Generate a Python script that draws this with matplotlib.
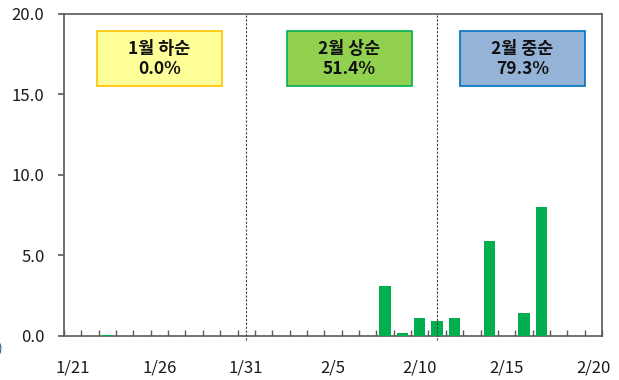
import matplotlib
matplotlib.use("Agg")
import matplotlib.pyplot as plt
from matplotlib.patches import Rectangle

plt.rcParams['font.family'] = ['Noto Sans CJK KR', 'DejaVu Sans']

# Daily dates 1/21 .. 2/20
dates = [f"1/{d}" for d in range(21, 32)] + [f"2/{d}" for d in range(1, 21)]
values = [0, 0, 0.05, 0, 0, 0, 0, 0, 0, 0, 0,
          0, 0, 0, 0, 0, 0, 0, 3.1, 0.15, 1.1,
          0.9, 1.1, 0, 5.85, 0, 1.4, 8.0, 0, 0, 0]
label_dates = ["1/21", "1/26", "1/31", "2/5", "2/10", "2/15", "2/20"]
divider_dates = ["1/31", "2/11"]
period_names = ["1월 하순", "2월 상순", "2월 중순"]
period_rates = ["0.0%", "51.4%", "79.3%"]
period_face = ["#FFFF99", "#92D050", "#95B3D7"]
period_edge = ["#FFC000", "#00B050", "#0070C0"]
period_span = [(1.4, 8.6), (12.35, 19.55), (22.3, 29.5)]

fig = plt.figure(figsize=(6.19, 3.80), dpi=100)
ax = fig.add_axes([64 / 619, 1 - 335.5 / 380, 538 / 619, 321.5 / 380])

x = list(range(len(dates)))
ax.bar(x, values, width=0.65, color="#00B050", zorder=3)

ax.set_xlim(-0.5, len(dates) - 0.5)
ax.set_ylim(0, 20)

ax.set_yticks([0, 5, 10, 15, 20])
ax.set_yticklabels([f"{v:.1f}" for v in [0, 5, 10, 15, 20]], fontsize=12, color="#1a1a1a")
ax.tick_params(axis="y", direction="out", length=4, color="#595959", width=1.2, pad=10)

ax.set_xticks([dates.index(d) for d in label_dates])
ax.set_xticklabels(label_dates, fontsize=12, color="#1a1a1a")
ax.tick_params(axis="x", which="major", length=0, pad=17)
ax.set_xticks([i - 0.5 for i in range(len(dates) + 1)], minor=True)
ax.tick_params(axis="x", which="minor", direction="in", length=4, color="#595959", width=1)

for s in ax.spines.values():
    s.set_color("#595959")
    s.set_linewidth(1.2)

for d in divider_dates:
    ax.axvline(dates.index(d), color="#404040", linestyle=(0, (2, 1.5)), linewidth=0.8,
               ymin=-0.015, zorder=4, clip_on=False)

for (x0, x1), name, rate, fc, ec in zip(period_span, period_names, period_rates, period_face, period_edge):
    ax.add_patch(Rectangle((x0, 15.5), x1 - x0, 3.45, facecolor=fc, edgecolor=ec, linewidth=1.2, zorder=5))
    ax.text((x0 + x1) / 2, 17.2, f"{name}\n{rate}", ha="center", va="center",
            fontsize=12.5, fontweight="bold", linespacing=1.15, zorder=6, color="#111111")

# clipped fragment at the left edge
fig.text(-0.004, 1 - 349 / 380, ")", fontsize=10, color="#2F5597", ha="left", va="center")

fig.savefig("out.png", dpi=100)
